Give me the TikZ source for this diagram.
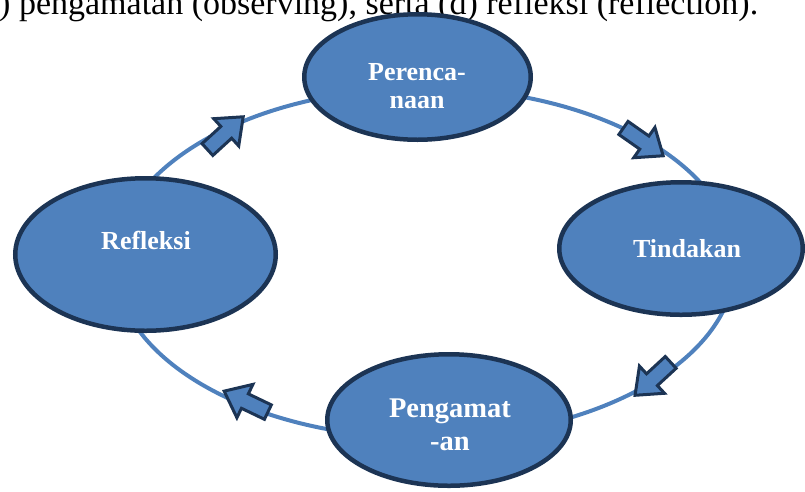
\documentclass[tikz,border=0pt]{standalone}
\usepackage{fontspec}
\setmainfont{Liberation Serif}
\usetikzlibrary{shapes.geometric}
\definecolor{fillblue}{HTML}{4F81BD}
\definecolor{navy}{HTML}{1C3454}
\begin{document}
\begin{tikzpicture}[x=1pt,y=-1pt,
  ell/.style={ellipse, draw=navy, line width=4.5pt, fill=fillblue, inner sep=0pt},
  lbl/.style={text=white, font=\bfseries\fontsize{26}{28}\selectfont, inner sep=0pt},
  cyc/.style={draw=fillblue, line width=4pt},
  blockarr/.style={draw=navy, line width=3pt, fill=fillblue, line join=miter}]
\useasboundingbox (0,0) rectangle (805,491);
\clip (0,0) rectangle (805,491);

% top text line (cut off)
\node[anchor=base west, font=\fontsize{34}{38}\selectfont, inner sep=0pt, text=black] (toptext) at (-1,14) {) pengamatan (observing), serta (d) refleksi (reflection).};

% cycle line
\draw[cyc] (425,263) ellipse [x radius=310, y radius=175];

% ellipses
\node[ell, minimum width=226.5pt, minimum height=125.5pt] (plan) at (417.5,77) {};
\node[ell, minimum width=260.5pt, minimum height=152.5pt] (refl) at (145.5,254.5) {};
\node[ell, minimum width=243.5pt, minimum height=132.5pt] (act) at (681,248.5) {};
\node[ell, minimum width=243.5pt, minimum height=131.5pt] (obs) at (449,420) {};

% labels
\node[lbl, anchor=base] (plantext) at (417,80) {\begin{tabular}[t]{@{}c@{}}Perenca-\\naan\end{tabular}};
\node[lbl, anchor=base] (refltext) at (146,249) {Refleksi};
\node[lbl, anchor=base] (acttext) at (687,257) {Tindakan};
\node[lbl, font=\bfseries\fontsize{28.5}{33}\selectfont, anchor=base] (obstext) at (450,417) {\begin{tabular}[t]{@{}c@{}}Pengamat\\-an\end{tabular}};

% block arrows
\begin{scope}[shift={(225.5,133)}, rotate=42.5]
\draw[blockarr] (-24.5,-8) -- (1,-8) -- (1,-18.5) -- (24,0) -- (1,18.5) -- (1,8) -- (-24.5,8) -- cycle;
\end{scope}
\begin{scope}[shift={(643.5,142)}, rotate=-35]
\draw[blockarr] (-24.5,-8) -- (1,-8) -- (1,-18.5) -- (24,0) -- (1,18.5) -- (1,8) -- (-24.5,8) -- cycle;
\end{scope}
\begin{scope}[shift={(652.7,379)}, rotate=-137.3]
\draw[blockarr] (-24.5,-8) -- (1,-8) -- (1,-18.5) -- (24,0) -- (1,18.5) -- (1,8) -- (-24.5,8) -- cycle;
\end{scope}
\begin{scope}[shift={(245.8,401.5)}, rotate=154.4]
\draw[blockarr] (-24.5,-8) -- (1,-8) -- (1,-18.5) -- (24,0) -- (1,18.5) -- (1,8) -- (-24.5,8) -- cycle;
\end{scope}
\end{tikzpicture}
\end{document}
